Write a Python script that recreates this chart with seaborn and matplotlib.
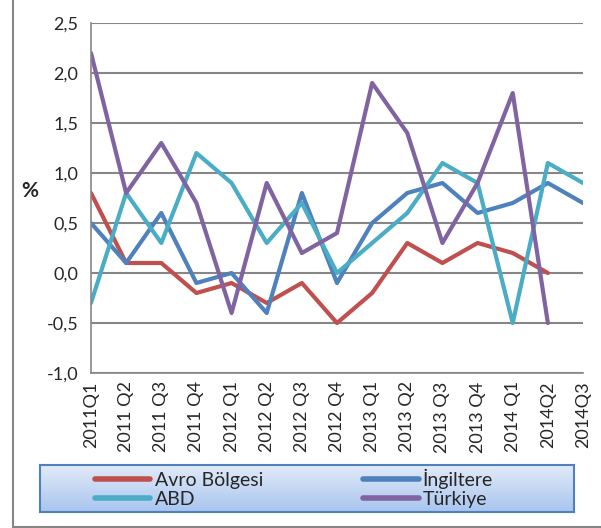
import numpy as np
import pandas as pd
import seaborn as sns
import matplotlib.pyplot as plt
from matplotlib.lines import Line2D
from matplotlib.ticker import FuncFormatter

quarters = ['2011Q1', '2011 Q2', '2011 Q3', '2011 Q4', '2012 Q1', '2012 Q2', '2012 Q3',
            '2012 Q4', '2013 Q1', '2013 Q2', '2013 Q3', '2013 Q4', '2014 Q1', '2014Q2', '2014Q3']
avro = [0.8, 0.1, 0.1, -0.2, -0.1, -0.3, -0.1, -0.5, -0.2, 0.3, 0.1, 0.3, 0.2, 0.0, np.nan]
ingiltere = [0.5, 0.1, 0.6, -0.1, 0.0, -0.4, 0.8, -0.1, 0.5, 0.8, 0.9, 0.6, 0.7, 0.9, 0.7]
abd = [-0.3, 0.8, 0.3, 1.2, 0.9, 0.3, 0.7, 0.0, 0.3, 0.6, 1.1, 0.9, -0.5, 1.1, 0.9]
turkiye = [2.2, 0.8, 1.3, 0.7, -0.4, 0.9, 0.2, 0.4, 1.9, 1.4, 0.3, 0.9, 1.8, -0.5, np.nan]

series = ['Avro Bölgesi', 'İngiltere', 'ABD', 'Türkiye']
colors = ['#C0504D', '#4F81BD', '#4BACC6', '#8064A2']

df = pd.DataFrame({'Dönem': quarters, 'Avro Bölgesi': avro, 'İngiltere': ingiltere,
                   'ABD': abd, 'Türkiye': turkiye})
long = df.melt(id_vars='Dönem', var_name='Seri', value_name='Değer')
long['x'] = long['Dönem'].map({q: i for i, q in enumerate(quarters)})

sns.set_style('white')
plt.rcParams['font.family'] = ['Lato', 'DejaVu Sans']

fig = plt.figure(figsize=(6.01, 5.28), dpi=100)
ax = fig.add_axes([91 / 601, 1 - 373 / 528, 492 / 601, 350 / 528])

sns.lineplot(data=long, x='x', y='Değer', hue='Seri', hue_order=series,
             palette=colors, linewidth=3, ax=ax, legend=False)

ax.set_xlim(0, len(quarters) - 1)
ax.set_ylim(-1.0, 2.5)
ax.set_yticks(np.arange(-1.0, 2.51, 0.5))
ax.yaxis.set_major_formatter(FuncFormatter(lambda v, p: f'{v:.1f}'.replace('.', ',')))
ax.set_xticks(range(len(quarters)))
ax.set_xticklabels(quarters, rotation=90)
ax.grid(axis='y', color='#868686', linewidth=1.5)
ax.set_axisbelow(True)
for s in ['top', 'right']:
    ax.spines[s].set_visible(False)
for s in ['left', 'bottom']:
    ax.spines[s].set_color('#868686')
    ax.spines[s].set_linewidth(1.2)
ax.tick_params(axis='y', length=6, color='#868686', width=1.2, labelsize=13, pad=3)
ax.tick_params(axis='x', direction='inout', length=10, color='#868686', width=1.2,
               labelsize=13, pad=1)
ax.set_xlabel('')
ax.set_ylabel('%', rotation=0, fontsize=15, fontweight='bold', va='center')
ax.yaxis.set_label_coords(-0.125, 0.52)

# legend box with gradient
lax = fig.add_axes([40 / 601, 1 - 512 / 528, 534 / 601, 47 / 528])
grad = np.linspace(0, 1, 64).reshape(-1, 1)
lax.imshow(grad, aspect='auto', cmap=sns.blend_palette(['#E1EAF8', '#A9C5EF'], as_cmap=True),
           extent=[0, 1, 0, 1])
lax.set_xticks([])
lax.set_yticks([])
for s in lax.spines.values():
    s.set_color('#4F81BD')
    s.set_linewidth(1.5)

handles = [Line2D([], [], color=c, linewidth=4, solid_capstyle='round') for c in colors]
order = [0, 2, 1, 3]
lax.legend([handles[i] for i in order], [series[i] for i in order], ncol=2,
           loc='center left', bbox_to_anchor=((95 - 40) / 534, 0.5), frameon=False,
           fontsize=14, handlelength=2.85, handletextpad=0.22, columnspacing=5.15,
           labelspacing=0.12, borderpad=0, borderaxespad=0)

# outer chart border
fig.add_artist(Line2D([13 / 601, 13 / 601], [0.5 / 528, 1], color='#868686', linewidth=1.5))
fig.add_artist(Line2D([13 / 601, 1], [1.5 / 528, 1.5 / 528], color='#868686', linewidth=1.5))

fig.savefig('out.png', dpi=100)
